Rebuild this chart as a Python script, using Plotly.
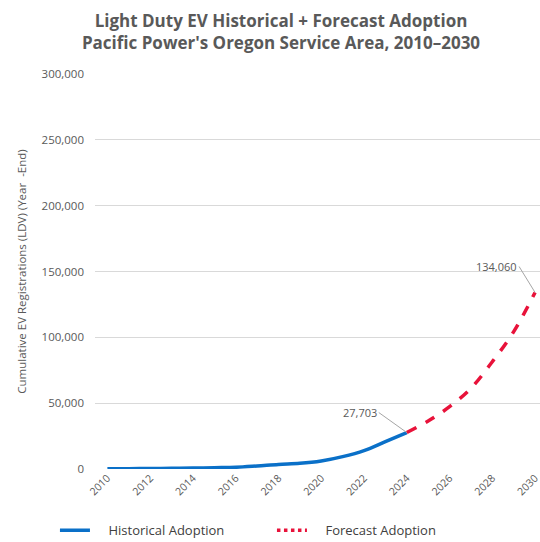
import plotly.graph_objects as go

hist_years = list(range(2010, 2025))
hist_values = [100, 250, 400, 550, 700, 1000, 1300, 2300, 3500, 4300, 6100, 9400, 14000, 20800, 27703]
fc_years = list(range(2024, 2031))
fc_values = [27703, 36500, 47300, 61300, 81500, 104300, 134060]
x_ticks = list(range(2010, 2031, 2))
y_ticks = [0, 50000, 100000, 150000, 200000, 250000, 300000]

GRAY = "#595959"
FONT = "Open Sans"
BLUE = "#0A70C8"
RED = "#E8123A"
PAD = "\u00a0" * 4

fig = go.Figure()
fig.add_trace(go.Scatter(x=hist_years, y=hist_values, mode="lines", name=PAD + "Historical Adoption",
                         line=dict(color=BLUE, width=3.5, shape="spline"), showlegend=True, cliponaxis=False))
fig.add_trace(go.Scatter(x=fc_years, y=fc_values, mode="lines", name="Forecast Adoption",
                         line=dict(color=RED, width=3.5, dash="dash", shape="spline"), showlegend=False, cliponaxis=False))
fig.add_trace(go.Scatter(x=[None], y=[None], mode="lines", name=PAD + "Forecast Adoption",
                         line=dict(color=RED, width=3.5, dash="dot")))

fig.add_annotation(x=hist_years[-1], y=hist_values[-1], text=f"{hist_values[-1]:,}",
                   showarrow=True, arrowhead=0, arrowcolor="#A6A6A6", arrowwidth=1,
                   ax=-28, ay=-20, xanchor="right", font=dict(family=FONT, size=11, color=GRAY))
fig.add_annotation(x=fc_years[-1], y=fc_values[-1], text=f"{fc_values[-1]:,}",
                   showarrow=True, arrowhead=0, arrowcolor="#A6A6A6", arrowwidth=1,
                   ax=-16, ay=-26, xanchor="right", font=dict(family=FONT, size=11, color=GRAY))

fig.update_layout(
    width=540, height=542,
    margin=dict(l=95, r=0, t=74, b=73, autoexpand=False),
    paper_bgcolor="white", plot_bgcolor="white",
    title=dict(text="<b>Light Duty EV Historical + Forecast Adoption<br>Pacific Power's Oregon Service Area, 2010–2030</b>",
               x=0.418, xref="paper", xanchor="center", y=0.951, yref="container", yanchor="middle",
               font=dict(family=FONT, size=17, color=GRAY)),
    font=dict(family=FONT, color=GRAY),
    legend=dict(orientation="h", x=-0.09, xanchor="left", y=-0.155, yanchor="middle",
                entrywidth=172, entrywidthmode="pixels",
                font=dict(family=FONT, size=13, color="#404040")),
    xaxis=dict(range=[2009.42, 2030.23], tickvals=x_ticks, ticktext=[str(t) for t in x_ticks],
               tickangle=-45, tickfont=dict(size=10.5, color=GRAY), showgrid=False, automargin=False,
               ticklabeloverflow="allow",
               zeroline=False, showline=False, ticks=""),
    yaxis=dict(range=[0, 300000], tickvals=y_ticks, ticktext=[f"{v:,}" for v in y_ticks], automargin=False,
               tickfont=dict(size=11.5, color=GRAY), showgrid=True, gridcolor="#D9D9D9", gridwidth=1,
               zeroline=False, showline=False, ticks="", ticklabelstandoff=10,
               title=dict(text="Cumulative EV Registrations (LDV) (Year  -End)",
                          font=dict(size=11.5, color=GRAY), standoff=12)),
)

fig.write_html("out.html", config={"displayModeBar": False},
               post_script="document.body.style.margin='0';document.body.style.overflow='hidden';")
